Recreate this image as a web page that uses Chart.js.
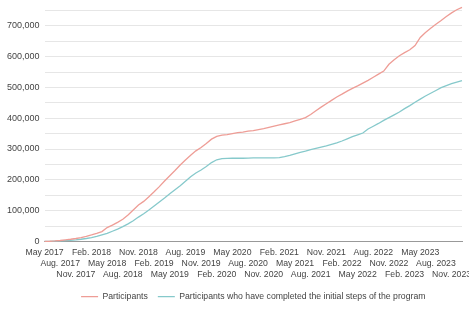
<!DOCTYPE html>
<html>
<head>
<meta charset="utf-8">
<script src="https://cdn.jsdelivr.net/npm/chart.js@4"></script>
<style>
  html, body { margin: 0; padding: 0; background: #fff; }
  #wrap { width: 469px; height: 311px; }
</style>
</head>
<body>
<div id="wrap"><canvas id="chart" width="469" height="311"></canvas></div>
<script>
// Meses: mayo 2017 a enero 2024
const monthNames = ['Jan.', 'Feb.', 'Mar.', 'Apr.', 'May', 'Jun.', 'Jul.', 'Aug.', 'Sep.', 'Oct.', 'Nov.', 'Dec.'];
const months = [];
for (let y = 2017, m = 4; y < 2024 || (y === 2024 && m === 0); ) {
    months.push(monthNames[m] + ' ' + y);
    m++;
    if (m === 12) { m = 0; y++; }
}

// Series
const participants = [
    0, 500, 1500, 3000, 5000, 7000, 9500, 12500, 16500, 21000,
    26000, 32000, 45000, 53000, 62000, 72000, 86000, 102000, 118000, 130000,
    145000, 161000, 178000, 196000, 213000, 230000, 248000, 264000, 280000, 294000,
    305000, 318000, 332000, 341000, 345000, 347000, 350000, 353000, 355000, 358000,
    360000, 363000, 366000, 370000, 374000, 378000, 382000, 386000, 391000, 396000,
    402000, 412000, 424000, 436000, 447000, 458000, 469000, 478000, 488000, 497000,
    505000, 514000, 523000, 533000, 543000, 553000, 575000, 590000, 603000, 613000,
    622000, 636000, 662000, 678000, 692000, 705000, 717000, 730000, 742000, 752000,
    760000
];
const completed = [
    0, 200, 700, 1500, 2500, 3500, 5000, 7000, 9500, 12500,
    16000, 21000, 26000, 33000, 40000, 48000, 57000, 67000, 79000, 90000,
    102000, 115000, 128000, 141000, 155000, 168000, 181000, 195000, 210000, 222000,
    232000, 243000, 256000, 265000, 269000, 269500, 270000, 270000, 270000, 270500,
    271000, 271000, 271000, 271500, 271500, 272000, 275000, 279000, 284000, 289000,
    293000, 298000, 302000, 306000, 310000, 315000, 320000, 326000, 333000, 340000,
    346000, 352000, 365000, 374000, 383000, 393000, 402000, 411000, 420000, 431000,
    441000, 452000, 462000, 472000, 481000, 490000, 499000, 506000, 512000, 517000,
    522000
];
const seriesLabels = ['Participants', 'Participants who have completed the initial steps of the program'];

// Marcas del eje Y (las de 100.000 llevan etiqueta)
const yTicks = [0, 50000, 100000, 150000, 200000, 250000, 300000, 350000,
    400000, 450000, 500000, 550000, 600000, 650000, 700000, 750000];
const yLabels = ['0', '', '100,000', '', '200,000', '', '300,000', '',
    '400,000', '', '500,000', '', '600,000', '', '700,000', ''];

const family = 'Arial, "Liberation Sans", sans-serif';

new Chart(document.getElementById('chart'), {
    type: 'line',
    data: {
        labels: months,
        datasets: [{
            label: seriesLabels[0],
            data: participants,
            borderColor: '#ee9d96',
            backgroundColor: '#ee9d96',
            borderWidth: 1.3,
            pointRadius: 0,
            tension: 0,
            clip: false
        }, {
            label: seriesLabels[1],
            data: completed,
            borderColor: '#86c9cb',
            backgroundColor: '#86c9cb',
            borderWidth: 1.3,
            pointRadius: 0,
            tension: 0,
            clip: false
        }]
    },
    options: {
        responsive: false,
        animation: false,
        layout: { padding: { left: 2, right: 7, top: 0, bottom: 0 } },
        scales: {
            x: {
                offset: false,
                grid: { display: false },
                border: { color: '#999' },
                afterFit: axis => { axis.height += 4; },
                ticks: {
                    color: '#444',
                    font: { family: family, size: 8.7, lineHeight: 1.26 },
                    autoSkip: false,
                    maxRotation: 0,
                    padding: -2,
                    callback: function (value, index) {
                        if (index % 3 !== 0) return '';
                        const row = (index / 3) % 3;
                        const lines = [];
                        for (let r = 0; r < row; r++) lines.push('');
                        lines.push(this.getLabelForValue(value));
                        return lines;
                    }
                }
            },
            y: {
                min: 0,
                max: 750000,
                border: { display: false },
                afterBuildTicks: axis => {
                    axis.ticks = yTicks.map(v => ({ value: v }));
                },
                grid: {
                    drawTicks: false,
                    color: '#e6e6e6'
                },
                ticks: {
                    autoSkip: false,
                    color: '#444',
                    font: { family: family, size: 9 },
                    padding: 5,
                    callback: (v, i) => yLabels[i]
                }
            }
        },
        plugins: {
            legend: {
                position: 'bottom',
                fullSize: false,
                labels: {
                    color: '#444',
                    font: { family: family, size: 8.7 },
                    usePointStyle: true,
                    pointStyle: 'line',
                    pointStyleWidth: 17,
                    boxWidth: 17,
                    padding: 10
                }
            },
            tooltip: { enabled: false }
        }
    }
});
</script>
</body>
</html>
